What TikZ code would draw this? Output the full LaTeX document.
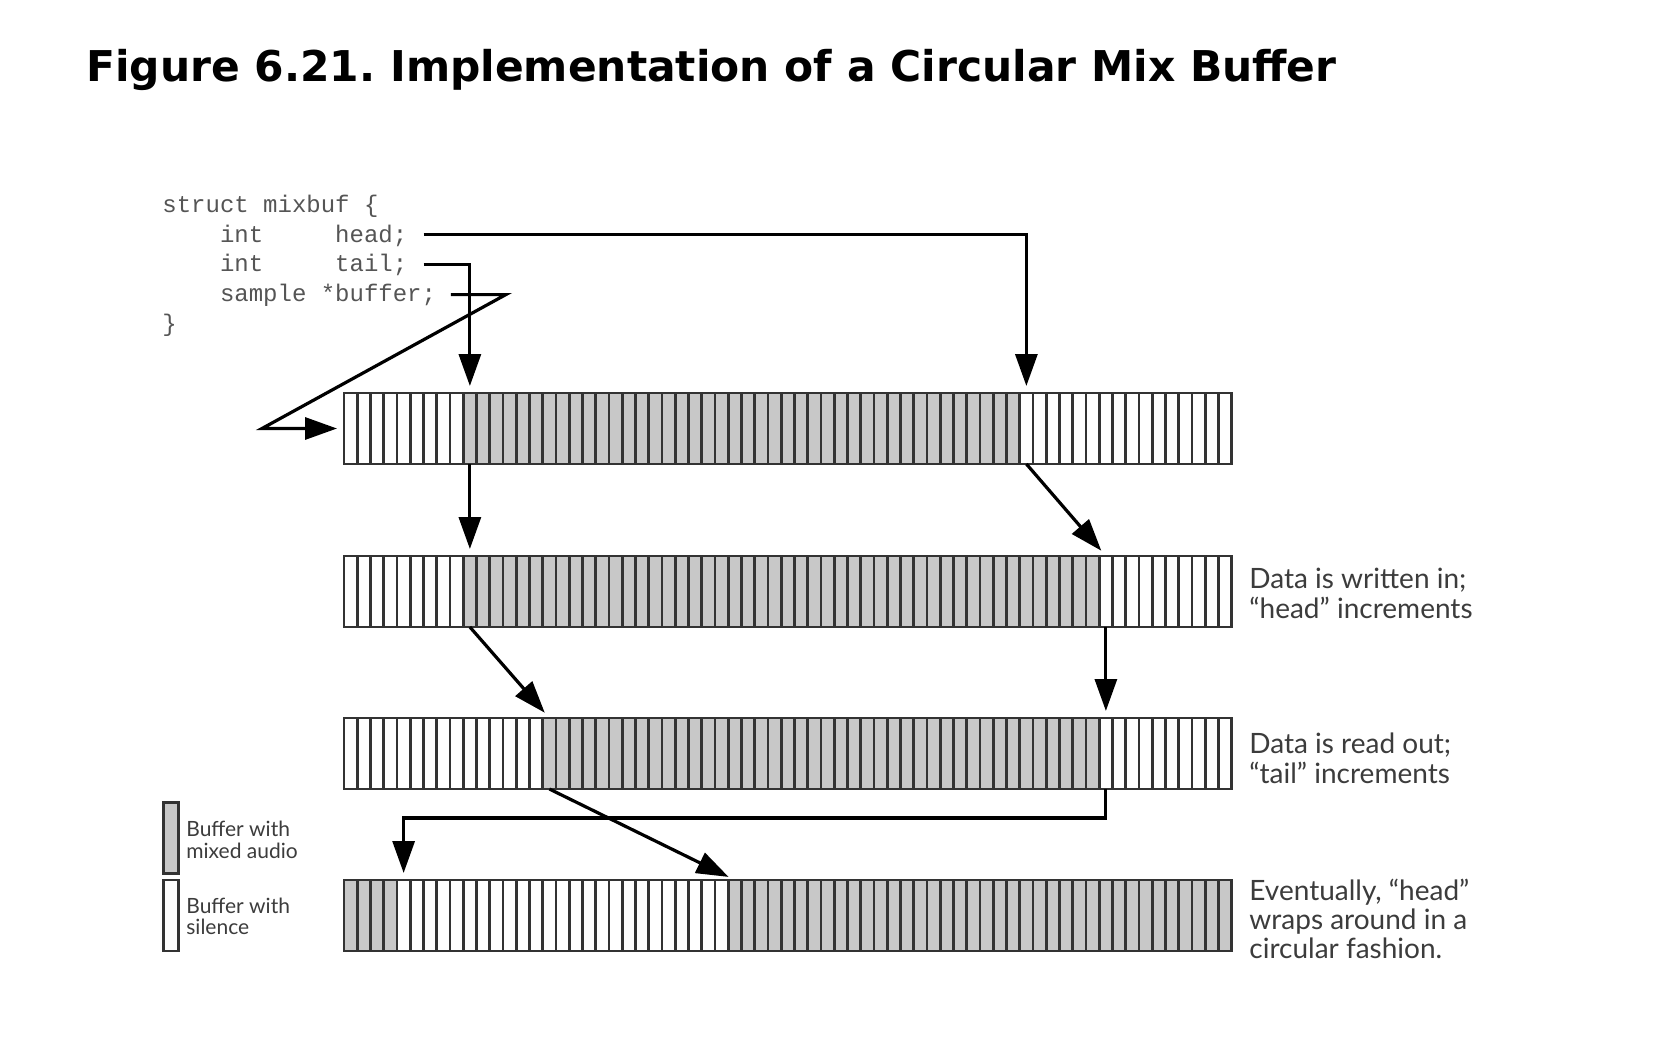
\documentclass[tikz,border=0pt]{standalone}
\usepackage{fontspec}
\setmainfont{Lato}
\newfontfamily\titlefont{DejaVu Sans}
\newfontfamily\codefont{Liberation Mono}
\usetikzlibrary{arrows.meta,calc}
\definecolor{cellgray}{HTML}{C8C8C8}
\definecolor{codegray}{HTML}{555555}
\definecolor{notegray}{HTML}{3C3C3C}
\frenchspacing
\newcommand\cw{13.25}
\newcommand\mixcells[1]{%
  \foreach \i in {1,...,66}
    \draw[divider] ($(#1.north west)+(\i*\cw,0)$) -- ($(#1.south west)+(\i*\cw,0)$);
  \draw[barline] (#1.north west) rectangle (#1.south east);}
\newcommand\grayrun[3]{%
  \fill[cellgray] ($(#1.north west)+(#2*\cw,0)$) rectangle ($(#1.south west)+(#3*\cw,0)$);}
\begin{document}
\begin{tikzpicture}[x=0.5pt,y=-0.5pt,
  bar/.style={draw=none, fill=white, minimum width=443.875pt, minimum height=35.5pt, inner sep=0pt, outer sep=0pt},
  divider/.style={line width=1.3pt, draw=black!80},
  barline/.style={line width=1.3pt, draw=black!80},
  arr/.style={line width=1.6pt, -{Triangle[length=16pt,width=11pt]}, shorten >=3.5pt},
  code/.style={anchor=base west, inner sep=0pt, font=\codefont\fontsize{12}{14}\selectfont, text=codegray},
  note/.style={anchor=base west, inner sep=0pt, font=\fontsize{14}{14.25}\selectfont, text=notegray},
  legtext/.style={anchor=base west, inner sep=0pt, font=\fontsize{10.5}{10}\selectfont, text=notegray},
  legbox/.style={draw=black!80, line width=1.3pt, minimum width=7.5pt, minimum height=35.5pt, inner sep=0pt, outer sep=0pt}]
\useasboundingbox[fill=white] (0,0) rectangle (1676,1038);

% title
\node[anchor=base west, inner sep=0pt, font=\titlefont\bfseries\fontsize{21.2}{26}\selectfont] (title) at (86,81.7)
  {Figure 6.21. Implementation of a Circular Mix Buffer};

% code
\node[code] (c0) at (162,212.5) {struct mixbuf \{};
\node[code] (c1) at (219.6,242.2) {int~~~~~head;};
\node[code] (c2) at (219.6,271.9) {int~~~~~tail;};
\node[code] (c3) at (219.6,301.6) {sample *buffer;};
\node[code] (c4) at (162,331.3) {\}};

% bars
\node[bar] (bar1) at (787.875,428.5) {};
\node[bar] (bar2) at (787.875,591.5) {};
\node[bar] (bar3) at (787.875,753.5) {};
\node[bar] (bar4) at (787.875,915.5) {};
\grayrun{bar1}{9}{51}
\grayrun{bar2}{9}{57}
\grayrun{bar3}{15}{57}
\grayrun{bar4}{0}{4}
\grayrun{bar4}{29}{67}
\mixcells{bar1}
\mixcells{bar2}
\mixcells{bar3}
\mixcells{bar4}

% pointers from the struct
\draw[arr] ($(c1.base east)+(16,-7.7)$) -| ($(bar1.north west)+(51.5*\cw,0)$);
\draw[arr] ($(c2.base east)+(16,-7.7)$) -| ($(bar1.north west)+(9.5*\cw,0)$);
\coordinate (bufturn) at ($(bar1.west)+(-82,0)$);
\draw[arr] ($(c3.base east)+(14.4,-7)$) -- ++(55,0) -- (bufturn) -- (bar1.west);

% row to row
\draw[arr] ($(bar1.south west)+(9.5*\cw,0)$) -- ($(bar2.north west)+(9.5*\cw,0)$);
\draw[arr] ($(bar1.south west)+(51.5*\cw,0)$) -- ($(bar2.north west)+(57.5*\cw,0)$);
\draw[arr] ($(bar2.south west)+(9.5*\cw,0)$) -- ($(bar3.north west)+(15.5*\cw,0)$);
\draw[arr] ($(bar2.south west)+(57.5*\cw,0)$) -- ($(bar3.north west)+(57.5*\cw,0)$);
\draw[arr] ($(bar3.south west)+(57.5*\cw,0)$) -- ++(0,29) -| ($(bar4.north west)+(4.5*\cw,0)$);
\draw[arr] ($(bar3.south west)+(15.5*\cw,0)$) -- ($(bar4.north west)+(29.5*\cw,0)$);

% notes
\node[note] (n2) at (1249,588.3) {\begin{tabular}[t]{@{}l@{}}Data is written in;\\“head” increments\end{tabular}};
\node[note] (n3) at (1249,753.3) {\begin{tabular}[t]{@{}l@{}}Data is read out;\\“tail” increments\end{tabular}};
\node[note] (n4) at (1249,900) {\begin{tabular}[t]{@{}l@{}}Eventually, “head”\\wraps around in a\\circular fashion.\end{tabular}};

% legend
\node[legbox, fill=cellgray] (leg1) at (170.8,838) {};
\node[legbox, fill=white] (leg2) at (170.8,915.5) {};
\node[legtext] (lt1) at (186,836.7) {\begin{tabular}[t]{@{}l@{}}Buffer with\\mixed audio\end{tabular}};
\node[legtext] (lt2) at (186,913.3) {\begin{tabular}[t]{@{}l@{}}Buffer with\\silence\end{tabular}};
\end{tikzpicture}
\end{document}
